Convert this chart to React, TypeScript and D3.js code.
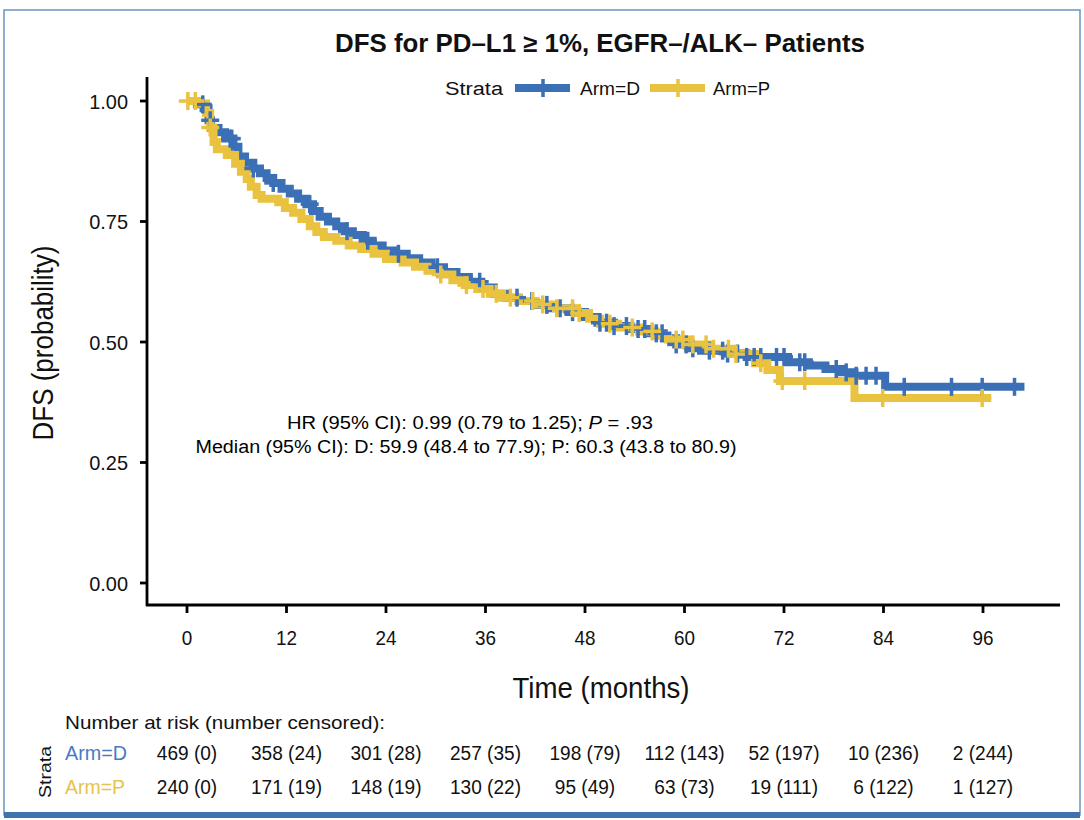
import * as d3 from 'd3';

// Kaplan-Meier steps: [time (months), survival]
const stepsD: [number, number][] = [
  [0, 1.0], [1.2, 0.993], [2.0, 0.985], [2.6, 0.96], [2.9, 0.944], [3.8, 0.935],
  [4.6, 0.922], [5.6, 0.905], [6.2, 0.885], [7.0, 0.872], [8.0, 0.86], [8.8, 0.85],
  [9.6, 0.84], [10.4, 0.83], [11.4, 0.818], [12.4, 0.808], [13.4, 0.797], [14.4, 0.786],
  [15.2, 0.772], [16.0, 0.76], [17.0, 0.75], [18.0, 0.74], [19.0, 0.73], [20.0, 0.722],
  [21.2, 0.71], [22.4, 0.7], [23.6, 0.69], [25.0, 0.683], [26.5, 0.674], [28.0, 0.665],
  [29.5, 0.655], [31.0, 0.645], [32.5, 0.635], [34.0, 0.625], [35.5, 0.613], [37.0, 0.6],
  [38.5, 0.592], [40.0, 0.585], [42.0, 0.577], [44.0, 0.57], [46.0, 0.562], [48.0, 0.552],
  [49.5, 0.54], [51.5, 0.533], [53.5, 0.527], [55.5, 0.518], [57.5, 0.508], [59.0, 0.495],
  [60.5, 0.487], [62.0, 0.482], [65.0, 0.476], [67.5, 0.469], [72.5, 0.458], [75.0, 0.451],
  [77.0, 0.444], [79.0, 0.437], [80.5, 0.43], [84.2, 0.407],
];
const endD = 101;

const stepsP: [number, number][] = [
  [0, 1.0], [1.5, 0.995], [2.3, 0.975], [2.8, 0.945], [3.2, 0.915], [3.6, 0.9],
  [4.8, 0.888], [5.8, 0.87], [6.5, 0.853], [7.2, 0.838], [7.7, 0.822], [8.4, 0.805],
  [9.0, 0.797], [11.0, 0.79], [11.8, 0.778], [12.8, 0.768], [13.8, 0.755], [14.8, 0.74],
  [15.6, 0.728], [16.5, 0.718], [18.0, 0.71], [19.5, 0.7], [21.0, 0.693], [22.5, 0.683],
  [24.0, 0.672], [26.0, 0.665], [27.5, 0.656], [29.0, 0.648], [30.5, 0.64], [32.0, 0.628],
  [33.5, 0.618], [35.0, 0.61], [36.5, 0.6], [38.0, 0.592], [40.0, 0.585], [42.0, 0.578],
  [44.5, 0.57], [47.0, 0.56], [48.5, 0.548], [49.8, 0.538], [52.0, 0.53], [54.5, 0.522],
  [56.5, 0.513], [58.0, 0.505], [60.5, 0.495], [63.0, 0.486], [66.0, 0.475], [68.5, 0.456],
  [70.0, 0.442], [71.5, 0.419], [80.5, 0.384],
];
const endP = 97;

// censoring marks (months)
const censorD = [
  1.9, 2.8, 5.2, 5.4, 8.0, 10.4, 14.8, 19.3, 21.8, 25.5, 30.2, 35.3, 39.8, 41.6, 43.4,
  45.0, 46.5, 49.8, 50.6, 51.5, 53.0, 54.4, 55.2, 56.6, 57.3, 59.0, 60.2, 61.0, 63.0,
  64.6, 65.2, 66.4, 67.5, 68.4, 69.2, 71.1, 72.0, 73.9, 74.5, 78.3, 79.5, 80.7, 81.9,
  83.1, 86.5, 92.2, 95.9, 99.8,
];
const censorP = [
  0.1, 1.0, 2.8, 30.6, 33.7, 35.7, 37.3, 39.0, 41.7, 42.9, 44.6, 46.5, 47.3, 51.0, 53.7,
  56.1, 59.0, 59.8, 61.0, 62.6, 63.5, 65.3, 66.2, 69.2, 71.8, 74.5, 83.9, 95.9,
];

const timeTicks = [0, 12, 24, 36, 48, 60, 72, 84, 96];
const probTicks = [0, 0.25, 0.5, 0.75, 1];
const atRiskD = [469, 358, 301, 257, 198, 112, 52, 10, 2];
const censoredD = [0, 24, 28, 35, 79, 143, 197, 236, 244];
const atRiskP = [240, 171, 148, 130, 95, 63, 19, 6, 1];
const censoredP = [0, 19, 19, 22, 49, 73, 111, 122, 127];

const BLUE = '#3b6fb6';
const YELLOW = '#e9c23f';
const FONT = "'Liberation Sans', Arial, Helvetica, sans-serif";

const survAt = (steps: [number, number][], t: number) => {
  let s = steps[0][1];
  for (const [tt, v] of steps) if (tt <= t) s = v;
  return s;
};

// text squeezed horizontally to look like a condensed face
const T = ({ x, y, size, sx = 0.88, anchor = 'start', weight = 'normal', fill = '#111', rotate = 0, width, children }: any) => (
  <text
    transform={`translate(${x},${y}) rotate(${rotate}) scale(${width ? 1 : sx},1)`}
    textAnchor={anchor}
    fontFamily={FONT}
    fontSize={size}
    fontWeight={weight}
    fill={fill}
    textLength={width}
    lengthAdjust={width ? 'spacingAndGlyphs' : undefined}
  >
    {children}
  </text>
);

export default function App() {
  const x = d3.scaleLinear().domain([0, 96]).range([187, 983]);
  const y = d3.scaleLinear().domain([0, 1]).range([583, 101]);
  const line = d3
    .line<[number, number]>()
    .x(d => x(d[0]))
    .y(d => y(d[1]))
    .curve(d3.curveStepAfter);

  const pathFor = (steps: [number, number][], end: number) =>
    line([...steps, [end, steps[steps.length - 1][1]]]) || '';

  const cross = (cx: number, cy: number, color: string, key: string) => (
    <g key={key} stroke={color} strokeWidth={3.5}>
      <line x1={cx - 9} x2={cx + 9} y1={cy} y2={cy} />
      <line x1={cx} x2={cx} y1={cy - 9} y2={cy + 9} />
    </g>
  );

  const arms = [
    { name: 'Arm=D', steps: stepsD, end: endD, censor: censorD, color: BLUE },
    { name: 'Arm=P', steps: stepsP, end: endP, censor: censorP, color: YELLOW },
  ];

  return (
    <div style={{ position: 'absolute', left: 0, top: 0 }}>
      <svg width={1084} height={820} style={{ display: 'block', background: '#fff' }}>
        {/* frame */}
        <rect x={4} y={10} width={1076} height={805} fill="none" stroke="#6b93bf" strokeWidth={1.5} />
        <rect x={4} y={812} width={1076} height={6} fill="#3f73b0" />

        {/* title */}
        <T x={600} y={52} size={25} anchor="middle" weight="bold" width={530}>
          DFS for PD–L1 ≥ 1%, EGFR–/ALK– Patients
        </T>

        {/* legend */}
        <T x={445} y={95} size={18} width={58}>Strata</T>
        <line x1={515} x2={570} y1={88} y2={88} stroke={BLUE} strokeWidth={8} />
        {cross(543, 88, BLUE, 'lgD')}
        <T x={580} y={95} size={18} width={60}>Arm=D</T>
        <line x1={650} x2={705} y1={88} y2={88} stroke={YELLOW} strokeWidth={8} />
        {cross(678, 88, YELLOW, 'lgP')}
        <T x={713} y={95} size={18} width={57}>Arm=P</T>

        {/* curves */}
        {arms.map(a => (
          <path key={a.name} d={pathFor(a.steps, a.end)} fill="none" stroke={a.color} strokeWidth={8} />
        ))}
        {arms.map(a => (
          <g key={a.name + 'c'}>
            {a.censor.map((t, i) => cross(x(t), y(survAt(a.steps, t)), a.color, a.name + i))}
          </g>
        ))}

        {/* axes */}
        <line x1={147} x2={147} y1={77} y2={606} stroke="#000" strokeWidth={2.8} />
        <line x1={146} x2={1060} y1={605} y2={605} stroke="#000" strokeWidth={2.8} />
        {probTicks.map(p => (
          <g key={p}>
            <line x1={140} x2={147} y1={y(p)} y2={y(p)} stroke="#000" strokeWidth={2.8} />
            <T x={128} y={y(p) + 7.5} size={21} sx={0.95} anchor="end">
              {d3.format('.2f')(p)}
            </T>
          </g>
        ))}
        {timeTicks.map(t => (
          <g key={t}>
            <line x1={x(t)} x2={x(t)} y1={605} y2={613} stroke="#000" strokeWidth={2.8} />
            <T x={x(t)} y={645} size={21} sx={0.9} anchor="middle">
              {t}
            </T>
          </g>
        ))}
        <T x={601} y={698} size={30} anchor="middle" width={177}>
          Time (months)
        </T>
        <T x={53} y={343} size={30} anchor="middle" rotate={-90} width={195}>
          DFS (probability)
        </T>

        {/* annotation */}
        <text x={470} y={429} textAnchor="middle" fontFamily={FONT} fontSize={18} textLength={366} lengthAdjust="spacingAndGlyphs">
          HR (95% CI): 0.99 (0.79 to 1.25); <tspan fontStyle="italic">P</tspan> = .93
        </text>
        <text x={466} y={453} textAnchor="middle" fontFamily={FONT} fontSize={18} textLength={541} lengthAdjust="spacingAndGlyphs">
          Median (95% CI): D: 59.9 (48.4 to 77.9); P: 60.3 (43.8 to 80.9)
        </text>

        {/* risk table */}
        <T x={65} y={729} size={19} width={320}>
          Number at risk (number censored):
        </T>
        <T x={51} y={772} size={17} anchor="middle" rotate={-90} width={52}>
          Strata
        </T>
        <T x={65} y={760} size={20} fill="#4a7bc0" width={62}>Arm=D</T>
        <T x={65} y={794} size={20} fill="#e6c34a" width={60}>Arm=P</T>
        {timeTicks.map((t, i) => (
          <g key={'r' + t}>
            <T x={x(t)} y={760} size={20.5} sx={0.93} anchor="middle">
              {`${atRiskD[i]} (${censoredD[i]})`}
            </T>
            <T x={x(t)} y={794} size={20.5} sx={0.93} anchor="middle">
              {`${atRiskP[i]} (${censoredP[i]})`}
            </T>
          </g>
        ))}
      </svg>
    </div>
  );
}
